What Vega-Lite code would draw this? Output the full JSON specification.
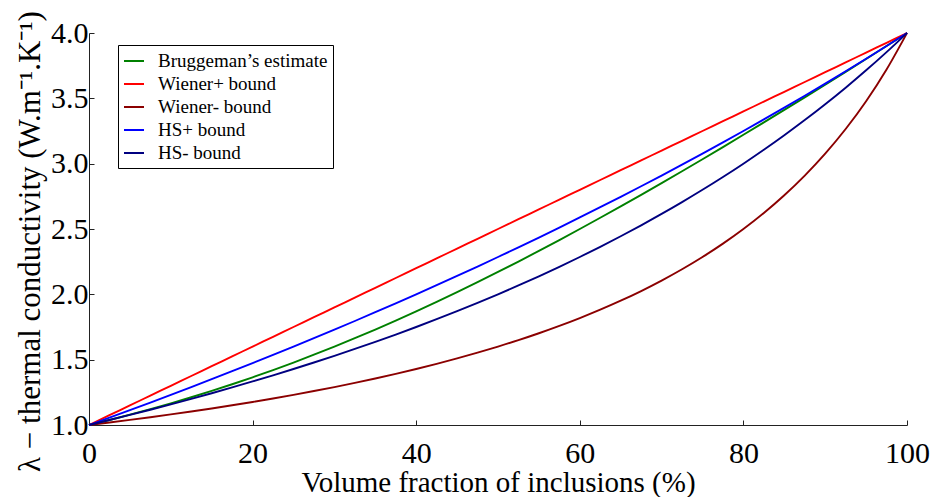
{
  "$schema": "https://vega.github.io/schema/vega-lite/v6.json",
  "width": 818,
  "height": 392,
  "autosize": {"type": "none"},
  "padding": {"left": 89, "top": 33, "right": 24, "bottom": 72},
  "background": "white",
  "config": {
    "view": {"stroke": null},
    "font": "Liberation Serif",
    "axis": {
      "grid": false,
      "domainColor": "#222222",
      "domainWidth": 1,
      "tickColor": "#222222",
      "tickSize": -5,
      "labelFont": "Liberation Serif",
      "labelFontSize": 30,
      "labelColor": "black",
      "titleFont": "Liberation Serif",
      "titleFontSize": 29,
      "titleFontWeight": "normal",
      "titleColor": "black",
      "labelFlush": false,
      "labelOverlap": false
    }
  },
  "data": {
    "values": [
      {"f": 0, "B": 1, "Wp": 1, "Wm": 1, "Hp": 1, "Hm": 1},
      {"f": 2.5, "B": 1.03845, "Wp": 1.075, "Wm": 1.01911, "Hp": 1.0566, "Hm": 1.03797},
      {"f": 5, "B": 1.07884, "Wp": 1.15, "Wm": 1.03896, "Hp": 1.11392, "Hm": 1.07692},
      {"f": 7.5, "B": 1.12124, "Wp": 1.225, "Wm": 1.0596, "Hp": 1.17197, "Hm": 1.11688},
      {"f": 10, "B": 1.1657, "Wp": 1.3, "Wm": 1.08108, "Hp": 1.23077, "Hm": 1.15789},
      {"f": 12.5, "B": 1.21228, "Wp": 1.375, "Wm": 1.10345, "Hp": 1.29032, "Hm": 1.2},
      {"f": 15, "B": 1.26102, "Wp": 1.45, "Wm": 1.12676, "Hp": 1.35065, "Hm": 1.24324},
      {"f": 17.5, "B": 1.31195, "Wp": 1.525, "Wm": 1.15108, "Hp": 1.41176, "Hm": 1.28767},
      {"f": 20, "B": 1.3651, "Wp": 1.6, "Wm": 1.17647, "Hp": 1.47368, "Hm": 1.33333},
      {"f": 22.5, "B": 1.42048, "Wp": 1.675, "Wm": 1.20301, "Hp": 1.53642, "Hm": 1.38028},
      {"f": 25, "B": 1.4781, "Wp": 1.75, "Wm": 1.23077, "Hp": 1.6, "Hm": 1.42857},
      {"f": 27.5, "B": 1.53794, "Wp": 1.825, "Wm": 1.25984, "Hp": 1.66443, "Hm": 1.47826},
      {"f": 30, "B": 1.6, "Wp": 1.9, "Wm": 1.29032, "Hp": 1.72973, "Hm": 1.52941},
      {"f": 32.5, "B": 1.66425, "Wp": 1.975, "Wm": 1.32231, "Hp": 1.79592, "Hm": 1.58209},
      {"f": 35, "B": 1.73064, "Wp": 2.05, "Wm": 1.35593, "Hp": 1.86301, "Hm": 1.63636},
      {"f": 37.5, "B": 1.79914, "Wp": 2.125, "Wm": 1.3913, "Hp": 1.93103, "Hm": 1.69231},
      {"f": 40, "B": 1.86969, "Wp": 2.2, "Wm": 1.42857, "Hp": 2.0, "Hm": 1.75},
      {"f": 42.5, "B": 1.94224, "Wp": 2.275, "Wm": 1.46789, "Hp": 2.06993, "Hm": 1.80952},
      {"f": 45, "B": 2.01671, "Wp": 2.35, "Wm": 1.50943, "Hp": 2.14085, "Hm": 1.87097},
      {"f": 47.5, "B": 2.09305, "Wp": 2.425, "Wm": 1.5534, "Hp": 2.21277, "Hm": 1.93443},
      {"f": 50, "B": 2.17116, "Wp": 2.5, "Wm": 1.6, "Hp": 2.28571, "Hm": 2.0},
      {"f": 52.5, "B": 2.251, "Wp": 2.575, "Wm": 1.64948, "Hp": 2.35971, "Hm": 2.0678},
      {"f": 55, "B": 2.33246, "Wp": 2.65, "Wm": 1.70213, "Hp": 2.43478, "Hm": 2.13793},
      {"f": 57.5, "B": 2.41549, "Wp": 2.725, "Wm": 1.75824, "Hp": 2.51095, "Hm": 2.21053},
      {"f": 60, "B": 2.5, "Wp": 2.8, "Wm": 1.81818, "Hp": 2.58824, "Hm": 2.28571},
      {"f": 62.5, "B": 2.58592, "Wp": 2.875, "Wm": 1.88235, "Hp": 2.66667, "Hm": 2.36364},
      {"f": 65, "B": 2.67318, "Wp": 2.95, "Wm": 1.95122, "Hp": 2.74627, "Hm": 2.44444},
      {"f": 67.5, "B": 2.76169, "Wp": 3.025, "Wm": 2.02532, "Hp": 2.82707, "Hm": 2.5283},
      {"f": 70, "B": 2.85141, "Wp": 3.1, "Wm": 2.10526, "Hp": 2.90909, "Hm": 2.61538},
      {"f": 72.5, "B": 2.94225, "Wp": 3.175, "Wm": 2.19178, "Hp": 2.99237, "Hm": 2.70588},
      {"f": 75, "B": 3.03416, "Wp": 3.25, "Wm": 2.28571, "Hp": 3.07692, "Hm": 2.8},
      {"f": 77.5, "B": 3.12708, "Wp": 3.325, "Wm": 2.38806, "Hp": 3.16279, "Hm": 2.89796},
      {"f": 80, "B": 3.22094, "Wp": 3.4, "Wm": 2.5, "Hp": 3.25, "Hm": 3.0},
      {"f": 82.5, "B": 3.31569, "Wp": 3.475, "Wm": 2.62295, "Hp": 3.33858, "Hm": 3.10638},
      {"f": 85, "B": 3.41129, "Wp": 3.55, "Wm": 2.75862, "Hp": 3.42857, "Hm": 3.21739},
      {"f": 87.5, "B": 3.50768, "Wp": 3.625, "Wm": 2.90909, "Hp": 3.52, "Hm": 3.33333},
      {"f": 90, "B": 3.60481, "Wp": 3.7, "Wm": 3.07692, "Hp": 3.6129, "Hm": 3.45455},
      {"f": 92.5, "B": 3.70265, "Wp": 3.775, "Wm": 3.26531, "Hp": 3.70732, "Hm": 3.5814},
      {"f": 95, "B": 3.80116, "Wp": 3.85, "Wm": 3.47826, "Hp": 3.80328, "Hm": 3.71429},
      {"f": 97.5, "B": 3.90028, "Wp": 3.925, "Wm": 3.72093, "Hp": 3.90083, "Hm": 3.85366},
      {"f": 100, "B": 4, "Wp": 4, "Wm": 4, "Hp": 4, "Hm": 4}
    ]
  },
  "transform": [{"fold": ["B", "Wp", "Wm", "Hp", "Hm"], "as": ["s", "k"]}],
  "mark": {"type": "line", "strokeWidth": 1.9, "interpolate": "monotone"},
  "encoding": {
    "x": {
      "field": "f",
      "type": "quantitative",
      "scale": {"domain": [0, 100], "nice": false},
      "axis": {
        "values": [0, 20, 40, 60, 80, 100],
        "title": "Volume fraction of inclusions (%)",
        "labelPadding": 18,
        "titlePadding": 0
      }
    },
    "y": {
      "field": "k",
      "type": "quantitative",
      "scale": {"domain": [1, 4], "nice": false, "zero": false},
      "axis": {
        "values": [1, 1.5, 2, 2.5, 3, 3.5, 4],
        "format": ".1f",
        "title": "λ − thermal conductivity (W.m⁻¹.K⁻¹)",
        "titleFontSize": 31,
        "titleY": 208,
        "labelPadding": 6,
        "titlePadding": 4
      }
    },
    "color": {
      "field": "s",
      "type": "nominal",
      "scale": {
        "domain": ["B", "Wp", "Wm", "Hp", "Hm"],
        "range": ["#008000", "#ff0000", "#8b0000", "#0000ff", "#000080"]
      },
      "legend": {
        "title": null,
        "orient": "none",
        "legendX": 29,
        "legendY": 12,
        "symbolType": "stroke",
        "symbolSize": 400,
        "symbolStrokeWidth": 2,
        "labelFont": "Liberation Serif",
        "labelFontSize": 19,
        "labelColor": "black",
        "labelLimit": 400,
        "labelOffset": 13,
        "rowPadding": 2,
        "padding": 5,
        "strokeColor": "black",
        "fillColor": "white",
        "labelExpr": "datum.label == 'B' ? 'Bruggeman’s estimate' : datum.label == 'Wp' ? 'Wiener+ bound' : datum.label == 'Wm' ? 'Wiener- bound' : datum.label == 'Hp' ? 'HS+ bound' : 'HS- bound'"
      }
    }
  }
}
